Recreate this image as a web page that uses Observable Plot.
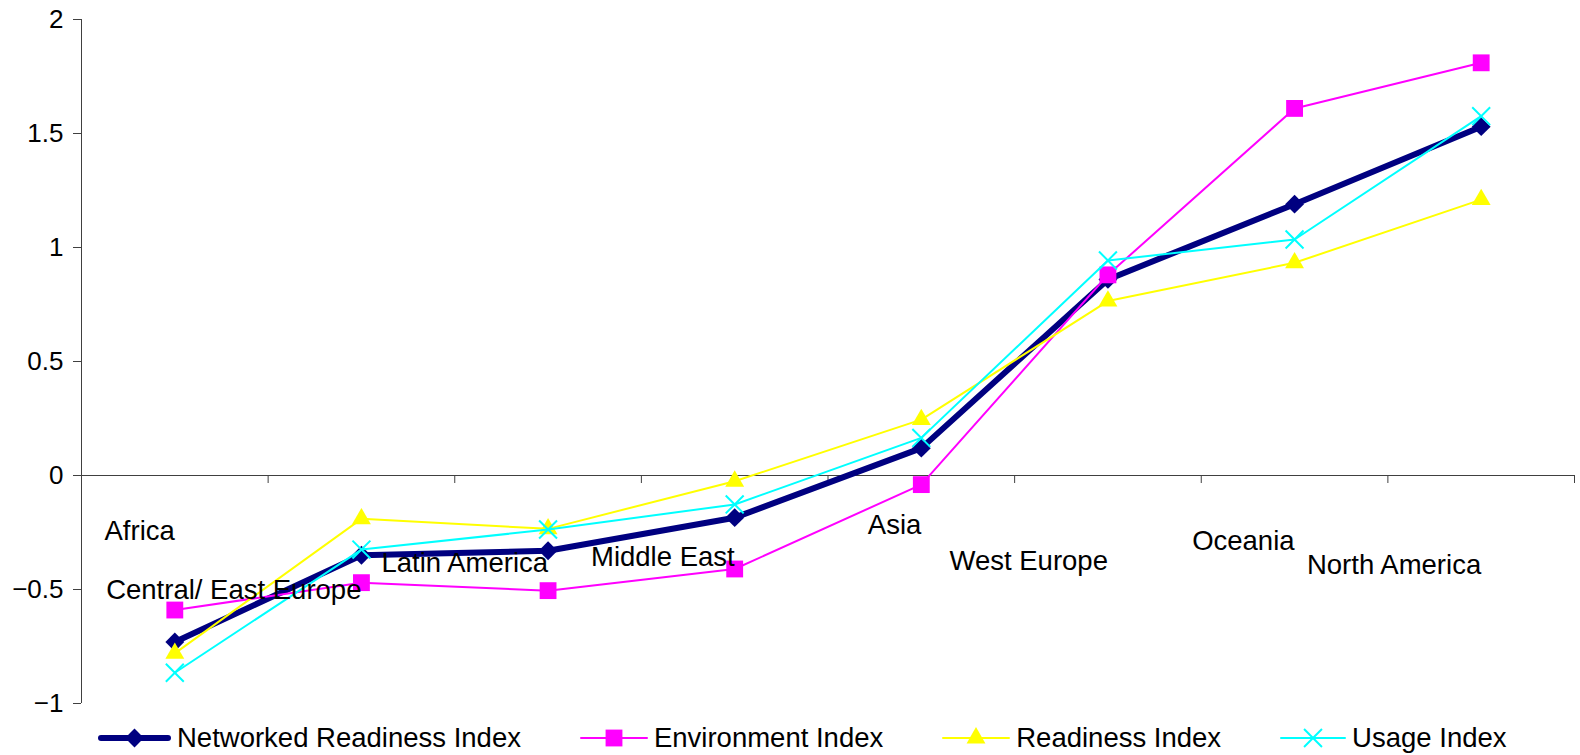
<!DOCTYPE html>
<html><head><meta charset="utf-8">
<script src="https://cdn.jsdelivr.net/npm/d3@7"></script>
<script src="https://cdn.jsdelivr.net/npm/@observablehq/plot@0.6"></script>
<style>
body{margin:0;background:#fff;width:1580px;height:755px;overflow:hidden;font-family:"Liberation Sans",Arial,sans-serif;}
#legend{display:flex;align-items:center;height:52px;padding-left:97px;font-size:27.5px;color:#000;white-space:nowrap;}
.item{display:flex;align-items:center;margin-right:58px;}
.item svg{margin-right:5px;display:block;}
</style></head><body>
<div id="chart"></div><div id="legend"></div>
<script>
const categories = ["Africa","Central/ East Europe","Latin America","Middle East","Asia","West Europe","Oceania","North America"];
const networkedReadiness = [-0.73,-0.35,-0.33,-0.185,0.12,0.86,1.19,1.53];
const environment = [-0.59,-0.47,-0.505,-0.41,-0.04,0.88,1.61,1.81];
const readiness = [-0.78,-0.19,-0.234,-0.025,0.245,0.765,0.933,1.21];
const usage = [-0.865,-0.325,-0.237,-0.127,0.165,0.943,1.035,1.576];
const labelLevels = [-0.245,-0.505,-0.386,-0.36,-0.22,-0.376,-0.287,-0.392];
const yTicks = [-1,-0.5,0,0.5,1,1.5,2];
const seriesNames = ["Networked Readiness Index","Environment Index","Readiness Index","Usage Index"];

const seriesValues = [networkedReadiness, environment, readiness, usage];
const styles = [
  {color:"#000080", width:6, symbol:"diamond2", r:8.5, filled:true, swatch:75},
  {color:"#FF00FF", width:2, symbol:"square", r:9.5, filled:true, swatch:70},
  {color:"#FFFF00", width:2, symbol:"triangle", r:7, filled:true, swatch:70},
  {color:"#00FFFF", width:2, symbol:"times", r:8.2, filled:false, swatch:68}
];
const symbolTypes = {diamond2:d3.symbolDiamond2, square:d3.symbolSquare, triangle:d3.symbolTriangle, times:d3.symbolTimes};
const rows = seriesValues.map(vals => vals.map((v,i)=>({i, v, cat:categories[i]})));
const boundaries = d3.range(categories.length + 1).map(i => i - 0.5);
const fmt = d => (d < 0 ? "\u2212" : "") + String(Math.abs(d));

const marks = [
  Plot.ruleY([0], {stroke:"#404040", strokeWidth:1}),
  Plot.ruleX(boundaries, {x: d=>d, y1: 0, y2: 0, insetBottom: -8, stroke:"#404040"}),
  Plot.ruleX([boundaries[0]], {stroke:"#404040"}),
  Plot.axisY(yTicks, {tickSize: 8, tickPadding: 10, fontSize: 26, stroke:"#404040", fill:"#000", label:null, tickFormat: fmt})
];
rows.forEach((data, k) => {
  const s = styles[k];
  marks.push(Plot.line(data, {x:"i", y:"v", stroke:s.color, strokeWidth:s.width, strokeLinejoin:"miter"}));
  marks.push(Plot.dot(data, s.filled
    ? {x:"i", y:"v", symbol:()=>s.symbol, r:s.r, fill:s.color, stroke:"none"}
    : {x:"i", y:"v", symbol:()=>s.symbol, r:s.r, stroke:s.color, strokeWidth:2, fill:"none"}));
});
marks.push(Plot.text(categories, {x:(d,i)=>i, y:(d,i)=>labelLevels[i], text:d=>d, textAnchor:"end", fontSize:27.5, fill:"#000"}));

const chart = Plot.plot({
  width: 1580, height: 712,
  marginLeft: 81, marginRight: 6, marginTop: 19, marginBottom: 9,
  style: {fontFamily: "Liberation Sans, Arial, sans-serif", fontSize: "26px", background: "white", overflow: "visible"},
  x: {type:"linear", domain:[boundaries[0], boundaries[boundaries.length-1]], axis:null},
  y: {domain:[yTicks[0], yTicks[yTicks.length-1]], axis:null},
  symbol: {type:"identity"},
  marks
});
document.getElementById("chart").appendChild(chart);

// legend
const legend = document.getElementById("legend");
seriesNames.forEach((name,k) => {
  const s = styles[k];
  const w = s.swatch, h = 30, cy = 15;
  const sym = d3.symbol(symbolTypes[s.symbol], Math.PI*s.r*s.r)();
  const mark = s.filled
    ? `<path d="${sym}" transform="translate(${w/2},${cy})" fill="${s.color}"/>`
    : `<path d="${sym}" transform="translate(${w/2},${cy})" fill="none" stroke="${s.color}" stroke-width="2"/>`;
  const item = document.createElement("div");
  item.className = "item";
  item.innerHTML = `<svg width="${w}" height="${h}"><line x1="${s.width/2+1}" x2="${w-s.width/2-1}" y1="${cy}" y2="${cy}" stroke="${s.color}" stroke-width="${s.width}" stroke-linecap="round"/>${mark}</svg><span>${name}</span>`;
  legend.appendChild(item);
});
</script>
</body></html>
